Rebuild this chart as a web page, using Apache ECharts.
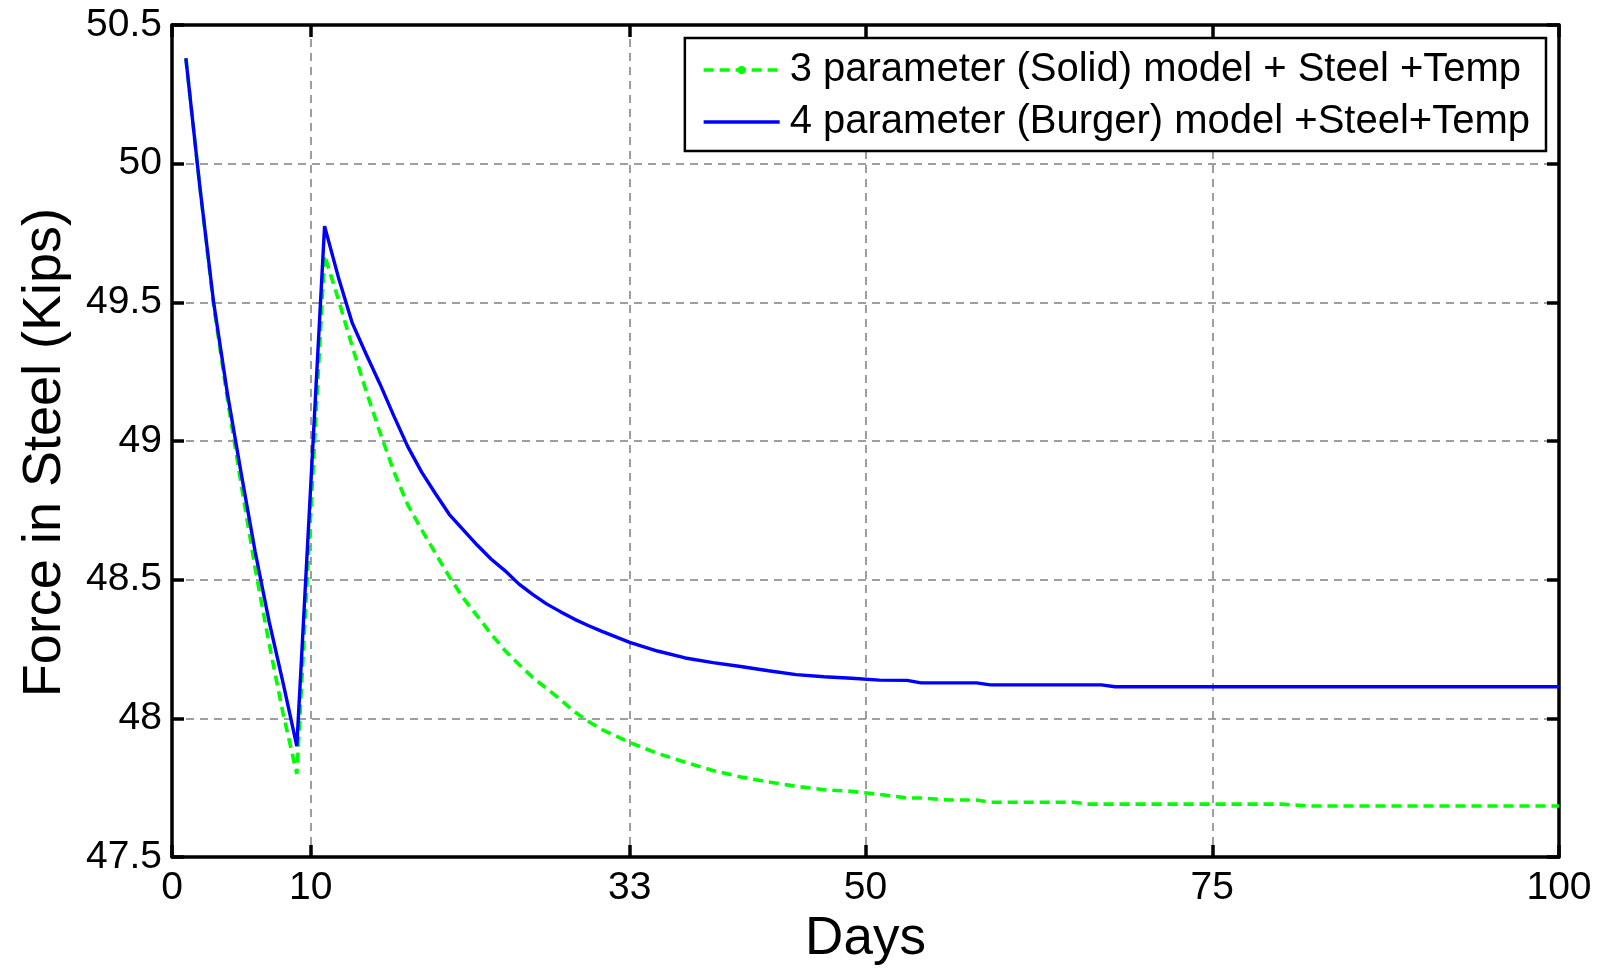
<!DOCTYPE html>
<html>
<head>
<meta charset="utf-8">
<title>Force in Steel</title>
<script src="https://cdn.jsdelivr.net/npm/echarts@6/dist/echarts.min.js"></script>
<style>
  html, body { margin: 0; padding: 0; background: #fff; }
  #chart { width: 1608px; height: 971px; }
</style>
</head>
<body>
<div id="chart"></div>
<script>
// Time in days
const days = [1, 2, 3, 4, 5, 6, 7, 8, 9,
  11, 12, 13, 14, 15, 16, 17, 18, 19, 20, 21, 22, 23, 24, 25, 26, 27, 28, 29, 30, 31,
  33, 35, 37, 39, 41, 43, 45, 47, 49, 51, 53,
  54, 56, 58, 59, 65, 66, 67, 68, 80, 82, 100];

// Force in steel (kips), 3 parameter (Solid) model
const solidModel = [50.38, 49.92, 49.49, 49.15, 48.84, 48.54, 48.27, 48.02, 47.80,
  49.67, 49.51, 49.34, 49.18, 49.03, 48.89, 48.77, 48.68, 48.595, 48.51, 48.434, 48.37, 48.305, 48.245, 48.195, 48.148, 48.108, 48.068, 48.025, 47.99, 47.96,
  47.913, 47.874, 47.842, 47.812, 47.789, 47.771, 47.755, 47.743, 47.737, 47.726, 47.713,
  47.713, 47.706, 47.706, 47.698, 47.698, 47.691, 47.691, 47.691, 47.691, 47.684, 47.684];

// Force in steel (kips), 4 parameter (Burger) model
const burgerModel = [50.38, 49.92, 49.50, 49.17, 48.88, 48.60, 48.35, 48.13, 47.90,
  49.775, 49.59, 49.425, 49.313, 49.205, 49.09, 48.98, 48.888, 48.81, 48.735, 48.68, 48.625, 48.575, 48.533, 48.485, 48.447, 48.413, 48.385, 48.358, 48.335, 48.314,
  48.274, 48.243, 48.218, 48.201, 48.187, 48.172, 48.158, 48.150, 48.145, 48.138, 48.137,
  48.128, 48.128, 48.128, 48.121, 48.121, 48.121, 48.121, 48.114, 48.114, 48.114, 48.114];

const seriesNames = ['3 parameter (Solid) model + Steel +Temp', '4 parameter (Burger) model +Steel+Temp'];
const xTicks = [0, 10, 33, 50, 75, 100];

const FONT = 'Liberation Sans, Arial, sans-serif';
const pairs = (ys) => days.map((d, i) => [d, ys[i]]);

const gridDash = { color: '#7f7f7f', width: 1.5, type: [8, 6] };
const tickStyle = { show: true, inside: true, length: 12, lineStyle: { color: '#000', width: 3.5 } };
const lineAxis = { show: true, onZero: false, lineStyle: { color: '#000', width: 3.5 } };

const chart = echarts.init(document.getElementById('chart'), null, { renderer: 'canvas' });
chart.setOption({
  animation: false,
  backgroundColor: '#fff',
  grid: { left: 172, right: 49, top: 25, bottom: 111, containLabel: false },
  legend: {
    orient: 'vertical',
    right: 62,
    top: 38,
    backgroundColor: '#fff',
    borderColor: '#000',
    borderWidth: 2.5,
    borderRadius: 0,
    padding: [12, 16, 9, 17],
    itemWidth: 76,
    itemHeight: 10,
    itemGap: 12,
    textStyle: { fontSize: 40, fontFamily: FONT, color: '#000', lineHeight: 40, padding: [0, 0, 0, 5] },
    data: [
      { name: seriesNames[0], lineStyle: { width: 3.6, type: [10, 6] } },
      { name: seriesNames[1], lineStyle: { width: 3.6 }, itemStyle: { opacity: 0 } }
    ]
  },
  xAxis: [{
    type: 'value', min: 0, max: 100, position: 'bottom',
    name: 'Days', nameLocation: 'middle', nameGap: 52,
    nameTextStyle: { fontSize: 53, fontFamily: FONT, color: '#000' },
    axisLine: lineAxis,
    axisTick: Object.assign({ customValues: xTicks }, tickStyle),
    axisLabel: { customValues: xTicks, fontSize: 39, fontFamily: FONT, color: '#000', margin: 12 },
    splitLine: { show: true, lineStyle: gridDash }
  }, {
    type: 'value', min: 0, max: 100, position: 'top',
    axisLine: lineAxis,
    axisTick: Object.assign({ customValues: xTicks }, tickStyle),
    axisLabel: { show: false },
    splitLine: { show: false }
  }],
  yAxis: [{
    type: 'value', min: 47.5, max: 50.5, interval: 0.5, position: 'left',
    name: 'Force in Steel (Kips)', nameLocation: 'middle', nameGap: 100, nameRotate: 90,
    nameTextStyle: { fontSize: 54, fontFamily: FONT, color: '#000', padding: [0, 23, 0, 0] },
    axisLine: lineAxis,
    axisTick: tickStyle,
    axisLabel: { fontSize: 39, fontFamily: FONT, color: '#000', margin: 10 },
    splitLine: { show: true, lineStyle: gridDash }
  }, {
    type: 'value', min: 47.5, max: 50.5, interval: 0.5, position: 'right',
    axisLine: lineAxis,
    axisTick: tickStyle,
    axisLabel: { show: false },
    splitLine: { show: false }
  }],
  series: [{
    name: seriesNames[0],
    type: 'line',
    xAxisIndex: 0, yAxisIndex: 0,
    data: pairs(solidModel),
    symbol: 'circle',
    symbolSize: 6,
    showSymbol: false,
    itemStyle: { color: '#00ff00' },
    lineStyle: { color: '#00ff00', width: 3.6, type: [10, 6] },
    z: 3
  }, {
    name: seriesNames[1],
    type: 'line',
    xAxisIndex: 0, yAxisIndex: 0,
    data: pairs(burgerModel),
    symbol: 'none',
    itemStyle: { color: '#0000ff' },
    lineStyle: { color: '#0000ff', width: 3.4 },
    z: 4
  }]
});
</script>
</body>
</html>
